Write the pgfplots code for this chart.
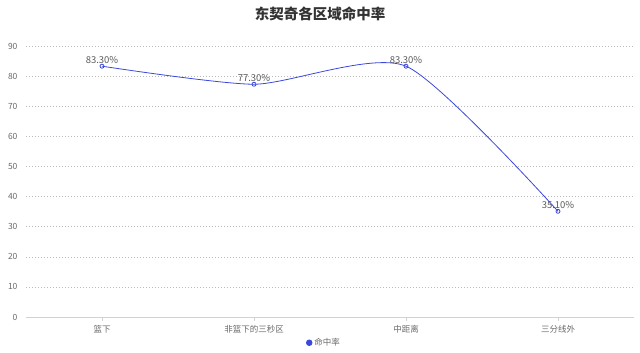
\documentclass[border=0pt]{standalone}
\usepackage{pgfplots}
\pgfplotsset{compat=1.18}
\usepackage{fontspec}
\setmainfont{Noto Sans CJK SC}
\definecolor{lineblue}{RGB}{59,72,220}
\definecolor{txtgrey}{RGB}{105,105,105}
\definecolor{titlec}{RGB}{51,51,51}
\begin{document}
\begin{tikzpicture}
\path[use as bounding box] (0,0) rectangle (640pt,353pt);
\node[font=\bfseries\fontsize{14.5}{17}\selectfont, text=titlec] at (320pt,339pt) {东契奇各区域命中率};
\begin{axis}[
  at={(26pt,36pt)}, anchor=south west, scale only axis,
  width=608pt, height=271pt,
  xmin=-0.5, xmax=3.5, ymin=0, ymax=90,
  ytick={0,10,...,90},
  xtick={0,1,2,3},
  xticklabels={篮下,非篮下的三秒区,中距离,三分线外},
  separate axis lines,
  axis x line*=bottom, axis y line*=left,
  x axis line style={draw=gray!35, -},
  y axis line style={draw=none},
  ytick style={draw=none},
  xtick style={draw=gray!35},
  tick align=outside,
  major tick length=4pt,
  ymajorgrids,
  grid style={dash pattern=on 1.2pt off 1.8pt, gray!55, line width=0.5pt},
  tick label style={font=\fontsize{8.5}{10}\selectfont, text=txtgrey},
  yticklabel style={xshift=-1pt},
  /pgf/number format/assume math mode=true,
  xticklabel style={yshift=-1pt},
  legend style={at={(axis description cs:0.5,-0.095)}, anchor=center, xshift=-6pt, draw=none, fill=none,
     font=\fontsize{8.5}{10}\selectfont, text=txtgrey},
  legend image code/.code={\fill[lineblue] (0.15cm,0cm) circle (2.8pt);},
  nodes near coords={\pgfmathprintnumber[fixed,fixed zerofill,precision=2]{\pgfplotspointmeta}\%},
  nodes near coords style={font=\fontsize{9.5}{11}\selectfont, text=txtgrey!85!black, anchor=south, yshift=-1.5pt},
  clip=false,
]
\addplot[lineblue, line width=0.8pt, smooth, tension=0.4, mark=o, mark size=2pt,
  mark options={fill=white, line width=0.8pt}] coordinates {
  (0,83.3) (1,77.3) (2,83.3) (3,35.1)
};
\addlegendentry{命中率}
\end{axis}
\end{tikzpicture}
\end{document}
